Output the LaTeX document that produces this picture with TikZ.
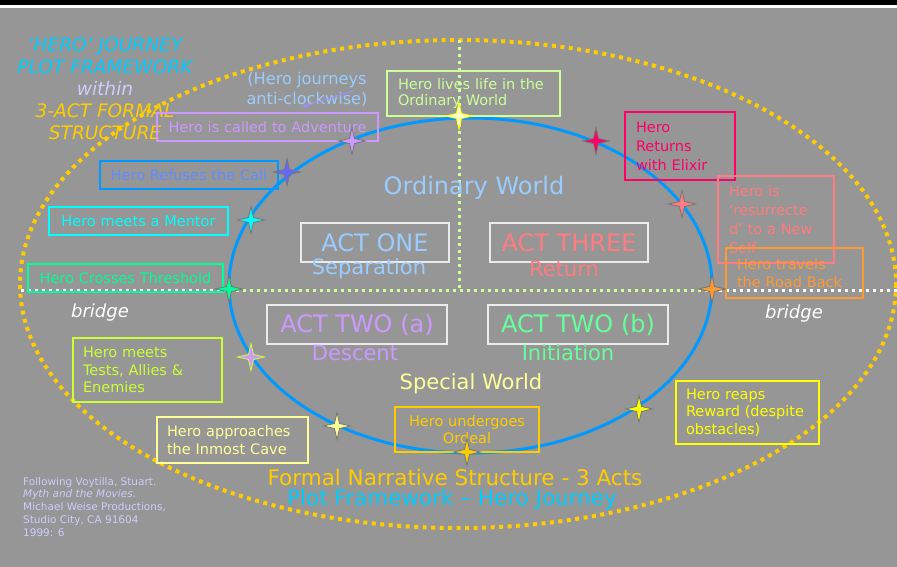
\documentclass[tikz,border=0pt]{standalone}
\usepackage{fontspec}
\setmainfont{DejaVu Sans}
\usetikzlibrary{shapes.geometric,arrows.meta}
\definecolor{bg}{RGB}{150,150,150}
\definecolor{gold}{RGB}{255,204,0}
\definecolor{tcyan}{RGB}{0,204,255}
\definecolor{lav}{RGB}{204,204,255}
\definecolor{lblue}{RGB}{153,204,255}
\definecolor{lgreen}{RGB}{204,255,153}
\definecolor{purp}{RGB}{204,153,255}
\definecolor{rblue}{RGB}{0,153,255}
\definecolor{rtext}{RGB}{95,140,255}
\definecolor{cyanc}{RGB}{0,255,255}
\definecolor{spring}{RGB}{0,255,153}
\definecolor{mint}{RGB}{102,255,153}
\definecolor{ygreen}{RGB}{204,255,51}
\definecolor{lyellow}{RGB}{255,255,153}
\definecolor{yel}{RGB}{255,255,0}
\definecolor{pinkc}{RGB}{255,0,102}
\definecolor{salmon}{RGB}{255,124,128}
\definecolor{orangec}{RGB}{255,153,51}
\definecolor{stargray}{RGB}{118,118,118}
\definecolor{starblue}{RGB}{102,102,255}
\definecolor{arrowc}{RGB}{160,140,255}
\definecolor{actwhite}{RGB}{235,235,235}
\definecolor{startop}{RGB}{255,255,200}
\newcommand\fsz[2]{\fontsize{#1}{#2}\selectfont}
\tikzset{
  every node/.style={inner sep=0pt},
  lbox/.style={draw=#1, text=#1, line width=1.1pt, font=\fsz{14.5}{17.5}, inner ysep=0pt},
  hstar/.style={star, star points=4, star point ratio=3.8, minimum size=27pt,
    inner sep=0pt, fill=#1, draw=stargray, line width=0.8pt},
  actbox/.style={draw=actwhite, line width=1.4pt, font=\fsz{24}{28}, minimum height=39pt},
  subt/.style={font=\fsz{21}{24}},
  golddots/.style={draw=gold, line width=4pt, dash pattern=on 4pt off 4.5pt},
  gdots/.style={draw=lgreen, line width=3pt, dash pattern=on 3pt off 4pt},
  wdots/.style={draw=white, line width=3pt, dash pattern=on 3pt off 4pt},
}
\begin{document}
\begin{tikzpicture}[x=1pt,y=-1pt]
\useasboundingbox (0,0) rectangle (897,567);
\fill[bg] (0,0) rectangle (897,567);
\fill[black] (0,0) rectangle (897,5);
\fill[white] (0,5) rectangle (897,8);
% outer gold dotted ellipse
\draw[golddots] (458,284) ellipse [x radius=438, y radius=244];
% dotted axes
\draw[wdots] (21,290) -- (229,290);
\draw[gdots] (229,290) -- (712,290);
\draw[wdots] (712,290) -- (897,290);
\draw[gdots] (459,40) -- (459,290);
% blue ellipse
\draw[rblue, line width=3pt] (470.5,285.5) ellipse [x radius=241.5, y radius=167.5];

% title
\node[align=center, font=\itshape\fsz{18.6}{22}] (title) at (105,89)
  {\textcolor{tcyan}{‘HERO’ JOURNEY}\\\textcolor{tcyan}{PLOT FRAMEWORK}\\\textcolor{lav}{within}\\
   \textcolor{gold}{3-ACT FORMAL}\\\textcolor{gold}{STRUCTURE}};
\node[align=center, text=lblue, font=\fsz{16.2}{20}] (anti) at (307,89) {(Hero journeys\\anti-clockwise)};
\coordinate (ar1) at (353,91);
\coordinate (ar2) at (302,107);
\draw[arrowc, line width=1pt, -{Stealth[length=7pt,width=5pt]}] (ar1) -- (ar2);

% event boxes
\node[lbox=lgreen, text width=151pt, inner xsep=11pt, minimum height=45pt, align=left, font=\fsz{14.5}{16.5}] (lives) at (473.5,93.5)
  {\mbox{Hero lives life in the}\\\mbox{Ordinary World}};
\node[lbox=purp, text width=211pt, inner xsep=5pt, minimum height=28pt, align=center] (adv) at (267.5,127)
  {Hero is called to Adventure};
\node[lbox=rblue, text=rtext, text width=168pt, inner xsep=5pt, minimum height=28pt, align=center] (refuse) at (189,175)
  {Hero Refuses the Call};
\node[lbox=cyanc, text width=169pt, inner xsep=5pt, minimum height=28pt, align=center] (mentor) at (138.5,221)
  {Hero meets a Mentor};
\node[lbox=spring, text width=185pt, inner xsep=5pt, minimum height=28pt, align=center] (thresh) at (125.5,278)
  {Hero Crosses Threshold};
\node[lbox=ygreen, text width=129pt, inner xsep=10pt, minimum height=64pt, align=left] (tests) at (147.5,370)
  {\mbox{Hero meets}\\\mbox{Tests, Allies \&}\\\mbox{Enemies}};
\node[lbox=lyellow, text width=131pt, inner xsep=10pt, minimum height=46pt, align=left] (inmost) at (232.5,440)
  {\mbox{Hero approaches}\\\mbox{the Inmost Cave}};
\node[lbox=gold, text width=134pt, inner xsep=5pt, minimum height=45pt, align=center] (ordeal) at (467,429.5)
  {Hero undergoes\\Ordeal};
\node[lbox=yel, text width=123pt, inner xsep=10pt, minimum height=63pt, align=left] (reward) at (747.5,412.5)
  {\mbox{Hero reaps}\\\mbox{Reward (despite}\\\mbox{obstacles)}};
\node[lbox=pinkc, text width=88pt, inner xsep=11pt, minimum height=68pt, align=left, font=\fsz{14.5}{19}] (elixir) at (680,146)
  {\mbox{Hero}\\\mbox{Returns}\\\mbox{with Elixir}};
\node[lbox=salmon, text width=94pt, inner xsep=11pt, minimum height=87pt, align=left, font=\fsz{14.5}{19}] (resur) at (776,219.5)
  {\mbox{Hero is}\\\mbox{‘resurrecte}\\\mbox{d’ to a New}\\\mbox{Self}};
\node[lbox=orangec, text width=115pt, inner xsep=11pt, minimum height=50pt, align=left] (road) at (794.5,273)
  {\mbox{Hero travels}\\\mbox{the Road Back}};

% central texts
\node[text=lblue, font=\fsz{24}{28}] (ow) at (474,188) {Ordinary World};
\node[actbox, text=lblue, minimum width=148pt] (act1) at (375,242.5) {ACT ONE};
\node[actbox, text=salmon, minimum width=158pt] (act3) at (569,242.5) {ACT THREE};
\node[actbox, text=purp, minimum width=180pt] (act2a) at (357,324.5) {ACT TWO (a)};
\node[actbox, text=mint, minimum width=180pt] (act2b) at (578,324.5) {ACT TWO (b)};
\node[subt, text=lblue] (sep) at (369,269) {Separation};
\node[subt, text=salmon] (ret) at (564,269) {Return};
\node[subt, text=purp] (desc) at (355,353) {Descent};
\node[subt, text=mint] (init) at (568,353) {Initiation};
\node[subt, text=lyellow] (sw) at (471,384) {Special World};
\node[text=gold, font=\fsz{21.5}{24}] (formal) at (455,477) {Formal Narrative Structure - 3 Acts};
\node[text=tcyan, font=\fsz{21.5}{24}] (plot) at (452,500) {Plot Framework – Hero Journey};
\node[text=white, font=\itshape\fsz{18}{20}] (bridgeL) at (100,313) {bridge};
\node[text=white, font=\itshape\fsz{18}{20}] (bridgeR) at (794,314) {bridge};

% citation
\node[text=lav, align=left, anchor=north west, font=\fsz{10.5}{12.75}] (cite) at (23,477)
  {Following Voytilla, Stuart.\\\textit{Myth and the Movies.}\\Michael Weise Productions,\\Studio City, CA 91604\\1999: 6};

% stars
\node[hstar=startop, draw=yel] (s0) at (459,116) {};
\node[hstar=purp] (s1) at (352,141) {};
\node[hstar=starblue] (s2) at (287,172) {};
\node[hstar=cyanc] (s3) at (251,220) {};
\node[hstar=spring] (s4) at (229,289) {};
\node[hstar=purp, draw=ygreen] (s5) at (251,357) {};
\node[hstar=lyellow] (s6) at (337,426) {};
\node[hstar=gold] (s7) at (467,452) {};
\node[hstar=yel] (s8) at (639,409) {};
\node[hstar=orangec] (s9) at (712,289) {};
\node[hstar=salmon] (s10) at (682,204) {};
\node[hstar=pinkc] (s11) at (596,141) {};
\end{tikzpicture}
\end{document}
